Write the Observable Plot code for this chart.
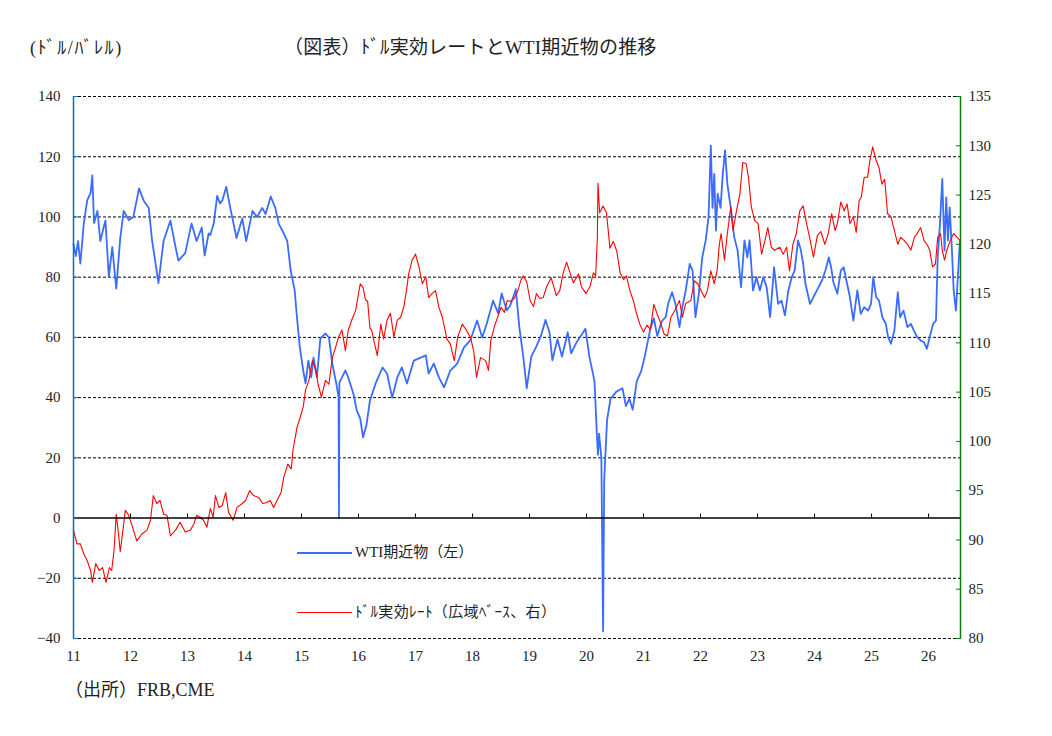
<!DOCTYPE html>
<html><head><meta charset="utf-8">
<script src="https://cdn.jsdelivr.net/npm/d3@7"></script>
<script src="https://cdn.jsdelivr.net/npm/@observablehq/plot@0.6"></script>
<style>
body{margin:0;background:#fff;}
#wrap{position:relative;width:1052px;height:736px;font-family:"Liberation Serif","Noto Sans CJK JP",serif;color:#222;}
#chart{position:absolute;left:0;top:0;}
#chart svg, #chart svg text{font-family:"Liberation Serif","Noto Sans CJK JP",serif !important;}
.lbl{position:absolute;white-space:nowrap;z-index:2;line-height:1;}
.lg{position:absolute;z-index:2;}
</style></head><body>
<div id="wrap">
<div id="chart"></div>
<div class="lbl" style="left:30px;top:39px;font-size:18px;letter-spacing:1.6px;">(ﾄﾞﾙ/ﾊﾞﾚﾙ)</div>
<div class="lbl" style="left:284px;top:38px;font-size:19px;letter-spacing:0.2px;">（図表）ﾄﾞﾙ実効レートとWTI期近物の推移</div>
<div class="lg" style="left:297px;top:552px;width:55px;height:2px;background:#3a6cff;"></div>
<div class="lbl" style="left:355px;top:545px;font-size:15px;">WTI期近物（左）</div>
<div class="lg" style="left:297px;top:612px;width:55px;height:1.3px;background:#ff0000;"></div>
<div class="lbl" style="left:355px;top:605px;font-size:15px;letter-spacing:0.4px;">ﾄﾞﾙ実効ﾚｰﾄ（広域ﾍﾞｰｽ、右）</div>
<div class="lbl" style="left:65px;top:681px;font-size:18px;">（出所）FRB,CME</div>
</div>
<script>
// ---- data (decimal years) ----
const wtiYears = [2011.00,2011.04,2011.08,2011.12,2011.18,2011.24,2011.30,2011.33,2011.36,2011.42,2011.47,2011.56,2011.62,2011.68,2011.75,2011.82,2011.88,2011.97,
2012.05,2012.15,2012.23,2012.32,2012.38,2012.44,2012.49,2012.58,2012.70,2012.79,2012.84,2012.96,
2013.07,2013.16,2013.25,2013.30,2013.37,2013.40,2013.46,2013.52,2013.57,2013.61,2013.68,2013.75,2013.86,2013.96,
2014.03,2014.14,2014.22,2014.31,2014.37,2014.46,2014.54,2014.60,2014.69,2014.75,2014.81,2014.88,2014.92,2014.97,
2015.03,2015.07,2015.12,2015.17,2015.21,2015.27,2015.33,2015.42,2015.48,2015.54,2015.61,2015.650,2015.657,2015.664,2015.71,2015.77,2015.82,2015.91,2015.97,
2016.03,2016.08,2016.14,2016.20,2016.30,2016.42,2016.50,2016.59,2016.68,2016.76,2016.85,2016.97,
2017.09,2017.18,2017.23,2017.32,2017.41,2017.50,2017.61,2017.73,2017.85,2017.96,
2018.08,2018.17,2018.25,2018.36,2018.45,2018.51,2018.60,2018.66,2018.76,2018.82,2018.89,2018.95,
2019.03,2019.12,2019.20,2019.28,2019.35,2019.40,2019.49,2019.57,2019.67,2019.73,2019.82,2019.90,2019.98,
2020.05,2020.14,2020.18,2020.20,2020.22,2020.26,2020.29,2020.31,2020.36,2020.42,2020.52,2020.63,2020.69,2020.75,2020.81,2020.88,2020.96,
2021.02,2021.12,2021.18,2021.24,2021.32,2021.39,2021.43,2021.50,2021.56,2021.63,2021.68,2021.74,2021.81,2021.86,2021.91,2021.97,
2022.03,2022.09,2022.14,2022.18,2022.21,2022.24,2022.27,2022.30,2022.35,2022.39,2022.43,2022.47,2022.53,2022.59,2022.65,2022.71,2022.77,2022.82,2022.86,2022.92,2022.98,
2023.04,2023.10,2023.16,2023.22,2023.29,2023.36,2023.42,2023.48,2023.54,2023.60,2023.65,2023.71,2023.76,2023.80,2023.84,2023.92,2023.98,
2024.07,2024.13,2024.19,2024.25,2024.29,2024.33,2024.40,2024.46,2024.51,2024.57,2024.62,2024.68,2024.75,2024.81,2024.87,2024.94,2024.99,
2025.03,2025.08,2025.13,2025.19,2025.25,2025.29,2025.34,2025.40,2025.46,2025.50,2025.56,2025.63,2025.69,2025.74,2025.80,2025.86,2025.92,2025.97,
2026.02,2026.08,2026.13,2026.16,2026.20,2026.24,2026.28,2026.31,2026.34,2026.37,2026.41,2026.44,2026.48,2026.52,2026.55];
const wtiValues = [91,87,92,84.5,97.8,105.5,108,113.8,98,102,92,98.8,80,90,76.2,93,102,99,
100,109.5,105.5,103,92,84.5,78,92,98.8,90,85.5,88,
97.8,92,96.5,87.2,94.5,94,97.8,107,104.5,105.5,110,103,93,99.5,
92,102,100,103,101,106.8,103,97.8,94.5,92,82.2,75.6,66.6,56.7,
49,44.7,52.3,46.7,53.3,46.7,59.6,61.3,60,51.3,44.7,40,0,45,46.7,49,46.7,41.3,35.7,
33,26.8,31,39,44.7,50,48,40,46.7,50,44.7,52.3,
53.3,54,48,51.3,46.7,43.4,49,51.3,56.7,59,
65.6,60,64.6,72.2,68,74.6,69,70.5,76,63.5,53.6,43.1,
53.6,57,60.5,65.8,61.7,52.4,59.4,53.6,61.7,54.7,58.2,60.5,62.9,
53.6,45.4,28,21,28,20,-37.6,12.8,32.6,39.6,41.9,43.1,37.2,39.6,36,45.4,48.9,
53.6,62.9,66.4,60.5,65.4,66.7,71.1,75,71.1,63.4,70,75.6,84.4,82.2,66.7,74.5,
86.6,92.2,99.9,123.7,103,114.3,95.5,107.7,103,114.3,122.1,111,103,93.3,88.9,76.7,92.2,86.6,92.2,75.6,80,
75.6,80,76.7,66.7,83.3,71.1,72.2,67.3,75.6,80,82.2,92.2,88.9,84.4,77.8,71.1,73.4,
76.7,78.9,82.2,86.6,83.3,78.3,74.5,82.2,83.3,77.8,73.4,65.6,75.6,67.8,70,68.9,71.1,
80,73.4,72.2,66.7,64.5,60.1,57.9,62.3,75,66.7,68.9,63.4,64.5,62.3,60.1,59,58.4,56.2,
60.1,64.5,65.6,86.6,97.7,112.6,88.8,106.5,92.2,103.2,88.8,75.6,68.9,82.2,92];

const usdYears = [2011.00,2011.06,2011.12,2011.18,2011.24,2011.30,2011.33,2011.39,2011.45,2011.51,2011.57,2011.63,2011.67,2011.71,2011.75,2011.79,2011.82,2011.88,2011.91,2011.96,
2012.02,2012.11,2012.20,2012.29,2012.35,2012.40,2012.46,2012.52,2012.58,2012.64,2012.70,2012.79,2012.87,2012.96,
2013.05,2013.11,2013.16,2013.22,2013.28,2013.34,2013.40,2013.45,2013.49,2013.55,2013.61,2013.67,2013.72,2013.80,2013.87,2013.96,
2014.02,2014.09,2014.16,2014.25,2014.32,2014.39,2014.45,2014.51,2014.57,2014.64,2014.69,2014.76,2014.82,2014.85,2014.92,2014.98,
2015.03,2015.07,2015.13,2015.19,2015.25,2015.29,2015.35,2015.42,2015.48,2015.54,2015.60,2015.65,2015.71,2015.77,2015.82,2015.88,2015.95,
2016.03,2016.08,2016.12,2016.16,2016.20,2016.23,2016.27,2016.33,2016.39,2016.44,2016.50,2016.56,2016.62,2016.68,2016.74,2016.80,2016.84,2016.88,2016.94,
2017.00,2017.06,2017.12,2017.18,2017.23,2017.29,2017.35,2017.41,2017.47,2017.55,2017.61,2017.68,2017.74,2017.82,2017.89,2017.96,
2018.02,2018.07,2018.14,2018.23,2018.28,2018.32,2018.38,2018.44,2018.50,2018.56,2018.61,2018.67,2018.73,2018.79,2018.85,2018.89,2018.95,
2019.01,2019.07,2019.12,2019.18,2019.24,2019.30,2019.38,2019.47,2019.53,2019.59,2019.65,2019.71,2019.77,2019.86,2019.91,2019.99,
2020.06,2020.12,2020.16,2020.19,2020.20,2020.23,2020.29,2020.35,2020.41,2020.47,2020.53,2020.59,2020.65,2020.70,2020.76,2020.82,2020.88,2020.94,
2021.00,2021.06,2021.12,2021.18,2021.24,2021.30,2021.36,2021.42,2021.48,2021.55,2021.63,2021.68,2021.74,2021.83,2021.89,2021.95,
2022.01,2022.07,2022.12,2022.18,2022.24,2022.29,2022.33,2022.36,2022.42,2022.47,2022.53,2022.57,2022.63,2022.69,2022.74,2022.80,2022.84,2022.89,2022.95,
2023.01,2023.07,2023.13,2023.18,2023.24,2023.30,2023.39,2023.45,2023.51,2023.56,2023.62,2023.68,2023.74,2023.80,2023.86,2023.92,2023.98,
2024.05,2024.11,2024.18,2024.24,2024.30,2024.36,2024.40,2024.46,2024.52,2024.57,2024.62,2024.68,2024.73,2024.78,2024.82,2024.87,2024.93,2024.97,
2025.02,2025.08,2025.13,2025.18,2025.23,2025.28,2025.34,2025.40,2025.46,2025.51,2025.57,2025.63,2025.69,2025.75,2025.80,2025.86,2025.92,2025.98,
2026.02,2026.07,2026.12,2026.16,2026.21,2026.24,2026.28,2026.32,2026.38,2026.44,2026.50,2026.55];
const usdValues = [91.0,89.6,89.6,88.6,87.9,86.9,85.7,87.6,86.9,87.2,85.7,87.2,86.9,88.9,92.6,90.6,88.8,91.6,93.0,92.6,
91.6,89.9,90.6,91.0,92.0,94.5,93.7,94.0,92.6,92.5,90.4,91.0,91.8,90.8,
91.0,91.6,92.5,92.3,92.0,91.3,93.2,92.3,94.5,93.3,93.5,94.8,92.8,92.0,93.3,93.7,
94.0,95.0,94.5,94.3,93.7,93.8,94.0,93.3,94.0,94.8,96.4,97.7,97.2,99.1,101.4,102.5,
103.5,105.2,106.2,108.2,107.2,105.8,104.5,106.2,105.8,108.5,109.6,110.6,111.3,109.2,111.3,112.3,113.3,
116.0,115.6,114.4,114.2,111.5,111.3,110.2,108.7,111.9,110.4,112.3,113.0,110.6,112.3,112.6,113.8,115.3,117.0,118.4,
119.0,117.7,116.0,116.7,114.6,115.0,115.3,113.6,112.6,110.4,109.9,108.2,110.6,111.9,111.3,110.6,
109.2,106.5,108.5,108.2,107.2,110.2,111.6,112.6,113.6,113.1,114.3,114.2,114.5,115.2,116.4,116.8,116.2,
114.3,113.7,115.0,114.5,114.6,115.7,116.6,114.8,115.3,117.1,118.2,117.1,116.1,117.0,115.7,115.0,
115.7,117.1,116.8,120.7,126.2,123.2,123.9,123.2,119.6,120.3,119.3,117.1,116.4,116.8,115.3,114.3,112.9,111.8,
111.1,111.8,111.4,113.9,112.9,112.0,110.9,110.7,112.6,113.3,114.3,112.6,114.0,114.3,116.3,116.0,
115.3,114.6,115.3,117.3,116.0,117.3,120.0,121.1,118.4,121.1,123.8,121.4,123.4,125.1,128.3,128.2,126.8,123.8,122.4,
122.1,119.0,120.4,121.7,119.7,119.4,119.7,119.0,119.7,117.3,120.0,121.1,123.4,123.9,122.1,120.5,118.7,
120.9,121.3,120.0,121.1,123.1,121.4,122.1,124.3,123.4,124.1,122.1,122.8,121.2,124.4,124.8,126.8,126.8,128.5,
129.9,128.5,127.8,126.1,126.6,123.1,122.8,121.4,120.0,120.7,120.4,120.0,119.4,120.7,121.1,121.7,120.4,119.9,
119.4,117.7,118.0,120.7,121.1,119.4,118.4,119.4,120.4,121.1,120.7,120.4];

const leftTicks = [-40,-20,0,20,40,60,80,100,120,140];
const rightTicks = [80,85,90,95,100,105,110,115,120,125,130,135];
const yearTicks = [2011,2012,2013,2014,2015,2016,2017,2018,2019,2020,2021,2022,2023,2024,2025,2026];
const xStart = 2011, xEnd = 2026.56;

// right-axis (dollar index) mapped onto the left (WTI) scale
const toLeft = r => -40 + (r - 80) * 180 / 55;
const fromLeft = l => 80 + (l + 40) * 55 / 180;

const wti = wtiYears.map((t, i) => ({t, v: wtiValues[i]}));
const usd = usdYears.map((t, i) => ({t, v: toLeft(usdValues[i])}));
const minus = n => (n < 0 ? "\u2212" + Math.abs(n) : String(n));

const chart = Plot.plot({
  width: 1052, height: 736,
  marginLeft: 73, marginRight: 92, marginTop: 96, marginBottom: 98,
  style: {fontFamily: "'Liberation Serif','Noto Sans CJK JP',serif", fontSize: "15px", color: "#222", background: "transparent"},
  x: {domain: [xStart, xEnd], label: null},
  y: {domain: [-40, 140], label: null},
  marks: [
    Plot.ruleY(leftTicks.filter(v => v !== 0), {stroke: "#000", strokeDasharray: "3,2", strokeWidth: 1}),
    Plot.line(wti, {x: "t", y: "v", stroke: "#3a6cff", strokeWidth: 1.8}),
    Plot.line(usd, {x: "t", y: "v", stroke: "#ff0000", strokeWidth: 1.1}),
    Plot.ruleY([0], {stroke: "#000", strokeWidth: 1.6}),
    Plot.ruleX(yearTicks.slice(1), {y1: 0, y2: 0, insetTop: -4, stroke: "#000", strokeWidth: 1}),
    Plot.ruleX([xStart], {stroke: "#0070c0", strokeWidth: 1.5}),
    Plot.ruleX([xEnd], {stroke: "#0a7a0a", strokeWidth: 1.5}),
    Plot.axisY(leftTicks, {anchor: "left", label: null, tickSize: -5, tickPadding: 18, stroke: "#0070c0", fill: "#222", tickFormat: minus}),
    Plot.axisY(rightTicks.map(toLeft), {anchor: "right", label: null, tickSize: -5, tickPadding: 13, stroke: "#0a7a0a", fill: "#222", tickFormat: d => String(Math.round(fromLeft(d)))}),
    Plot.axisX(yearTicks, {anchor: "bottom", label: null, tickSize: 0, tickPadding: 12, fill: "#222", tickFormat: d => String(d % 100)})
  ]
});
document.getElementById("chart").appendChild(chart);
</script>
</body></html>
